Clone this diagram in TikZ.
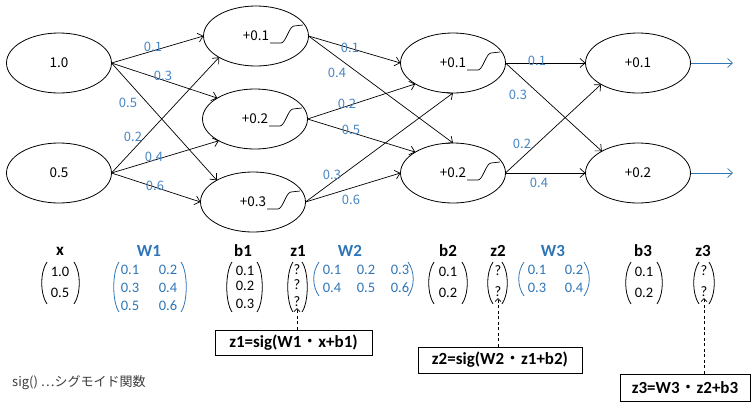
\documentclass[tikz,border=0pt]{standalone}
\usepackage{fontspec}
\setmainfont{Noto Sans CJK JP}
\newfontfamily\cjk{Noto Sans CJK JP}
\newfontfamily\calib{Carlito}
\usetikzlibrary{shapes.geometric,arrows.meta}
\definecolor{wblue}{RGB}{46,117,182}
\definecolor{lblue}{RGB}{72,133,196}
\definecolor{jgray}{RGB}{60,60,60}
\newcommand\sigcurve[1]{\draw[line width=0.7pt] ([shift={(14,7)}]#1.center) -- ++(11,0) cos ++(6.5,-8.5) sin ++(6.5,-8.5) -- ++(9,-1);}
\newcommand\mpar[5]{%
  \draw[#5,line width=0.8pt] (#1+6,#3) .. controls (#1-1,#3+10) and (#1-1,#4-10) .. (#1+6,#4);
  \draw[#5,line width=0.8pt] (#2-6,#3) .. controls (#2+1,#3+10) and (#2+1,#4-10) .. (#2-6,#4);}
\begin{document}
\begin{tikzpicture}[x=1pt,y=-1pt,
  neuron/.style={ellipse,draw,line width=0.8pt,minimum width=105pt,minimum height=60pt,inner sep=0pt,outer sep=0pt,font=\fontsize{13.5}{15}\selectfont},
  conn/.style={line width=0.7pt,-{Straight Barb[length=5pt,width=9pt]}},
  wlab/.style={text=lblue,font=\fontsize{13}{14}\selectfont,inner sep=0pt},
  ent/.style={inner sep=0pt,font=\calib\fontsize{14.5}{16}\selectfont},
  bent/.style={ent,text=wblue},
  head/.style={inner sep=0pt,font=\calib\bfseries\fontsize{17}{19}\selectfont},
  bhead/.style={head,text=wblue},
  fbox/.style={draw,line width=0.9pt,inner sep=0pt,font=\calib\bfseries\fontsize{17}{19}\selectfont},
  darr/.style={line width=0.7pt,dash pattern=on 3pt off 2.5pt,-{Straight Barb[length=3pt,width=6pt]}}
]
\useasboundingbox (0,0) rectangle (755,407);

% neurons
\node[neuron] (in1) at (59,63) {1.0};
\node[neuron] (in2) at (59,173) {0.5};
\node[neuron] (h1a) at (256,36) {+0.1};
\node[neuron] (h1b) at (255,119) {+0.2};
\node[neuron] (h1c) at (253,202) {+0.3};
\node[neuron] (h2a) at (453,63) {+0.1};
\node[neuron] (h2b) at (453,173) {+0.2};
\node[neuron] (o1) at (638,63) {+0.1};
\node[neuron] (o2) at (638,173) {+0.2};

\sigcurve{h1a}
\sigcurve{h1b}
\sigcurve{h1c}
\sigcurve{h2a}
\sigcurve{h2b}

% layer 1
\draw[conn] (in1.east) -- (h1a.west);
\draw[conn] (in1.east) -- (h1b.151);
\draw[conn] (in1.east) -- (h1c.149);
\draw[conn] (in2.east) -- (h1a.210);
\draw[conn] (in2.east) -- (h1b.211);
\draw[conn] (in2.east) -- (h1c.west);
% layer 2
\draw[conn] (h1a.east) -- (h2a.west);
\draw[conn] (h1a.east) -- (h2b.north);
\draw[conn] (h1b.east) -- (h2a.209);
\draw[conn] (h1b.east) -- (h2b.151);
\draw[conn] (h1c.east) -- (h2a.south);
\draw[conn] (h1c.east) -- (h2b.west);
% layer 3
\draw[conn] (h2a.east) -- (o1.west);
\draw[conn] (h2a.east) -- (o2.149);
\draw[conn] (h2b.east) -- (o1.210);
\draw[conn] (h2b.east) -- (o2.west);
\coordinate (out1) at (733,63);
\coordinate (out2) at (733,173);
\draw[conn,wblue] (o1.east) -- (out1);
\draw[conn,wblue] (o2.east) -- (out2);

% weight labels
\node[wlab] (w111) at (153,47) {0.1};
\node[wlab] (w112) at (163,76) {0.3};
\node[wlab] (w113) at (128,103) {0.5};
\node[wlab] (w121) at (133,137) {0.2};
\node[wlab] (w122) at (154,157) {0.4};
\node[wlab] (w123) at (155,186) {0.6};
\node[wlab] (w211) at (350,48) {0.1};
\node[wlab] (w212) at (337,73) {0.4};
\node[wlab] (w221) at (347,104) {0.2};
\node[wlab] (w222) at (351,130) {0.5};
\node[wlab] (w231) at (332,175) {0.3};
\node[wlab] (w232) at (351,200) {0.6};
\node[wlab] (w311) at (537,61) {0.1};
\node[wlab] (w312) at (518,95) {0.3};
\node[wlab] (w321) at (522,144) {0.2};
\node[wlab] (w322) at (539,183) {0.4};

% headings
\node[head] (hx) at (60,251) {x};
\node[bhead] (hW1) at (149,251) {W1};
\node[head] (hb1) at (243,251) {b1};
\node[head] (hz1) at (298,251) {z1};
\node[bhead] (hW2) at (350,251) {W2};
\node[head] (hb2) at (448,251) {b2};
\node[head] (hz2) at (498,251) {z2};
\node[bhead] (hW3) at (553,251) {W3};
\node[head] (hb3) at (643,251) {b3};
\node[head] (hz3) at (703,251) {z3};

% x
\mpar{41}{80}{262}{304}{black}
\node[ent] (x1) at (60,272) {1.0};
\node[ent] (x2) at (60,293) {0.5};
% W1
\mpar{113}{187}{262}{312}{wblue}
\node[bent] (a11) at (130,270) {0.1};
\node[bent] (a12) at (168,270) {0.2};
\node[bent] (a21) at (130,288) {0.3};
\node[bent] (a22) at (168,288) {0.4};
\node[bent] (a31) at (130,306) {0.5};
\node[bent] (a32) at (168,306) {0.6};
% b1
\mpar{226}{263}{262}{312}{black}
\node[ent] (b11) at (245,271) {0.1};
\node[ent] (b12) at (245,286) {0.2};
\node[ent] (b13) at (245,304) {0.3};
% z1
\mpar{287}{308}{262}{312}{black}
\node[ent] (q11) at (297,270) {?};
\node[ent] (q12) at (297,285) {?};
\node[ent] (q13) at (297,302) {?};
% W2
\mpar{313}{414}{262}{296}{wblue}
\node[bent] (c11) at (332,270) {0.1};
\node[bent] (c12) at (366,270) {0.2};
\node[bent] (c13) at (400,270) {0.3};
\node[bent] (c21) at (332,288) {0.4};
\node[bent] (c22) at (366,288) {0.5};
\node[bent] (c23) at (400,288) {0.6};
% b2
\mpar{428}{468}{262}{304}{black}
\node[ent] (b21) at (448,272) {0.1};
\node[ent] (b22) at (448,293) {0.2};
% z2
\mpar{487}{508}{262}{304}{black}
\node[ent] (q21) at (498,271) {?};
\node[ent] (q22) at (498,292) {?};
% W3
\mpar{518}{590}{262}{296}{wblue}
\node[bent] (d11) at (537,270) {0.1};
\node[bent] (d12) at (574,270) {0.2};
\node[bent] (d21) at (537,288) {0.3};
\node[bent] (d22) at (574,288) {0.4};
% b3
\mpar{625}{663}{262}{304}{black}
\node[ent] (b31) at (644,272) {0.1};
\node[ent] (b32) at (644,293) {0.2};
% z3
\mpar{693}{715}{262}{304}{black}
\node[ent] (q31) at (704,271) {?};
\node[ent] (q32) at (704,292) {?};

% formula boxes
\node[fbox,minimum width=157pt,minimum height=25pt] (f1) at (293.5,342.5) {z1=sig(W1{\cjk\mdseries ・}x+b1)};
\node[fbox,minimum width=164pt,minimum height=26pt] (f2) at (500,360) {z2=sig(W2{\cjk\mdseries ・}z1+b2)};
\node[fbox,minimum width=130pt,minimum height=27pt] (f3) at (685,387.5) {z3=W3{\cjk\mdseries ・}z2+b3};
\draw[darr] (q13.south |- f1.north) -- ([yshift=-1pt]q13.south);
\draw[darr] (q22.south |- f2.north) -- ([yshift=-1pt]q22.south);
\draw[darr] (q32.south |- f3.north) -- ([yshift=-1pt]q32.south);

\node[anchor=west,inner sep=0pt,text=jgray,font=\fontsize{13}{15}\selectfont] (note) at (12,383) {sig() …シグモイド関数};
\end{tikzpicture}
\end{document}
